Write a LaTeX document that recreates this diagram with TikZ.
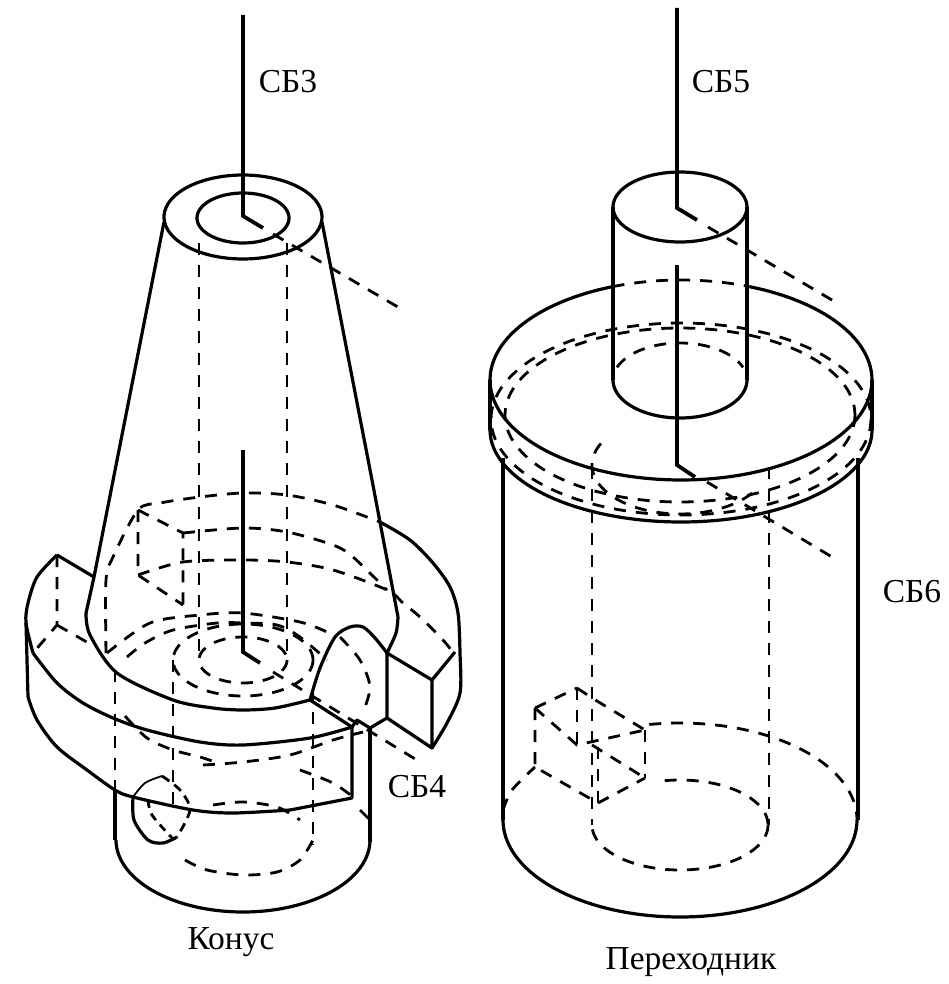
\documentclass[tikz,border=0pt]{standalone}
\usepackage{fontspec}
\setmainfont{Liberation Serif}
\tikzset{
  main/.style={draw=black,line width=3.2pt,line join=round},
  axisline/.style={draw=black,line width=3.8pt,line join=miter},
  hid/.style={draw=black,line width=2.8pt,dash pattern=on 12pt off 10pt},
  lbl/.style={inner sep=0pt,font=\fontsize{33.5}{33.5}\selectfont}
}
% ellipse piece: [style]{cx}{cy}{rx}{ry}{from}{to}, angles run clockwise on the page
\newcommand{\ellarc}[7][main]{\draw[#1] plot[domain=#6:#7,samples=70,smooth] ({#2+#4*cos(\x)},{#3+#5*sin(\x)});}
\begin{document}
\begin{tikzpicture}[x=1pt,y=-1pt]
\useasboundingbox (0,0) rectangle (948,984);
% left part: top of the cone
\ellarc{243}{217}{79}{42}{0}{360}
\ellarc{243}{218}{46}{25}{0}{360}
\draw[axisline] (243,15) -- (243,216) -- (263,228);
\draw[hid] (273,234) -- (403,310);
\draw[main] (164,222) -- (94,577) -- (86,613);
\draw[main] (322,222) -- (372,480) -- (398,617);
\draw[main] plot[smooth] coordinates {(86,613) (90,635) (117,673) (173,700) (213,708) (243,710) (275,708) (310,700)};
\draw[main] plot[smooth] coordinates {(398,617) (396,633) (387,653)};
% left part: flange
\draw[main] (94,577) -- (57,555);
\draw[main] plot[smooth] coordinates {(57,555) (37,577) (28,603) (26,623) (33,653)};
\draw[main] (26,623) -- (28,697);
\draw[main] plot[smooth] coordinates {(33,653) (57,683) (83,703) (113,718) (147,730) (200,742) (243,745) (310,738) (352,727)};
\draw[main] (352,727) -- (352,798) -- (290,810);
\draw[main] plot[smooth] coordinates {(290,810) (233,813) (193,810) (133,797) (115,790) (87,770) (57,747) (37,720) (28,697)};
\draw[main] (310,700) -- (352,727);
\draw[main] (352,727) -- (357,720) -- (370,728) -- (387,718);
\draw[main] (370,728) -- (370,842);
\draw[main] (387,653) -- (387,718) -- (432,748) -- (432,680) -- (387,653);
\draw[main] plot[smooth] coordinates {(380,522) (410,540) (433,563) (450,587) (458,613) (460,653) (460,693) (447,723) (432,748)};
\draw[main] (432,680) -- (455,652);
\draw[main] plot[smooth] coordinates {(310,700) (320,668) (335,637) (350,627) (363,627) (375,638) (387,653)};
% left part: lower cylinder
\draw[main] (115,790) -- (115,840);
\ellarc{243}{840}{127}{72}{0}{180}
\draw[main] plot[smooth] coordinates {(133,797) (134,820) (148,840) (163,843) (177,837)};
\draw[line width=1.8pt] plot[smooth] coordinates {(133,797) (145,783) (162,776)};
\draw[hid,dash pattern=on 9pt off 6pt] plot[smooth] coordinates {(162,776) (180,790) (190,810) (177,837)};
\draw[hid,dash pattern=on 8pt off 6pt] plot[smooth] coordinates {(148,800) (152,815) (172,838)};
% left part: hidden lines
\draw[hid] (199,243) -- (199,660);
\draw[hid] (287,243) -- (287,660);
\ellarc[hid]{243}{660}{44}{23}{0}{360}
\ellarc[hid]{243}{660}{70}{36}{0}{360}
\draw[hid] plot[smooth] coordinates {(107,653) (150,623) (200,615) (243,613) (300,622) (327,632)};
\draw[hid] plot[smooth] coordinates {(127,657) (145,643) (173,630) (217,623) (243,623) (277,625) (300,637) (327,660)};
\draw[hid] plot[smooth] coordinates {(340,637) (360,660) (370,687) (363,712)};
\draw[hid] plot[smooth] coordinates {(106,653) (106,580) (113,557) (138,510) (160,503) (200,497) (243,493) (287,495) (333,505) (380,522)};
\draw[hid] plot[smooth] coordinates {(183,533) (243,528) (287,532) (333,545) (353,557) (387,590)};
\draw[hid] plot[smooth] coordinates {(138,575) (183,562) (243,560) (287,562) (333,570) (387,590) (403,603) (420,617) (443,640) (455,655)};
\draw[hid] (138,510) -- (183,533) -- (183,605);
\draw[hid] (138,510) -- (138,575) -- (183,605);
\draw[hid] (57,555) -- (57,625) -- (33,653);
\draw[hid] (57,625) -- (92,645);
\draw[hid] (115,670) -- (115,790);
\draw[hid] (173,660) -- (173,812);
\draw[hid] (313,690) -- (313,845);
\draw[hid] plot[smooth] coordinates {(125,716) (147,738) (173,750) (200,757) (215,762)};
\draw[hid] plot[smooth] coordinates {(203,765) (243,762) (290,755) (333,740) (363,732)};
\draw[hid] plot[smooth] coordinates {(300,770) (333,783) (353,797)};
\draw[hid] plot[smooth] coordinates {(213,805) (243,802) (277,807) (300,820)};
\draw[hid] plot[smooth] coordinates {(185,860) (207,870) (243,875) (277,872) (300,860) (313,840)};
\draw[hid] (360,810) -- (370,820);
\draw[axisline] (243,450) -- (243,652) -- (260,663);
\draw[hid] (273,672) -- (420,762);
\node[lbl] (sbthree) at (288,82) {СБ3};
\node[lbl] (sbfour) at (417,787) {СБ4};
\node[lbl] (konus) at (231,942) {Конус};
% right part: upper cylinder
\ellarc{680}{207}{67}{35}{0}{360}
\draw[main] (613,207) -- (613,380);
\draw[main] (747,207) -- (747,380);
\ellarc{680}{380}{67}{38}{0}{180}
\ellarc[hid]{680}{380}{67}{37}{200}{340}
\draw[axisline] (677,8) -- (677,208) -- (697,220);
\draw[hid] (708,227) -- (837,303);
% right part: disc
\ellarc{681}{380}{191}{100}{-69}{249}
\ellarc[hid]{681}{380}{191}{100}{249}{291}
\draw[main] (490,380) -- (490,430);
\draw[main] (872,380) -- (872,430);
\ellarc{681}{430}{191}{92}{0}{180}
\ellarc[hid]{681}{419}{190}{96}{0}{360}
\ellarc[hid]{680}{415}{175}{87}{0}{360}
% right part: body
\draw[main] (503,458) -- (503,820);
\draw[main] (858,458) -- (858,820);
\ellarc{680}{820}{177}{97}{0}{180}
\draw[hid] (592,467) -- (592,825);
\draw[hid] (769,467) -- (769,825);
\ellarc[hid]{680}{465}{88}{49}{-325}{-145}
\ellarc[hid]{680}{825}{88}{45}{0}{180}
\ellarc[hid]{680}{825}{88}{45}{260}{360}
\ellarc[hid]{680}{820}{177}{97}{260}{360}
\draw[hid] plot[smooth] coordinates {(503,810) (512,790) (535,767)};
% right part: key
\draw[hid] (535,708) -- (577,688);
\draw[hid] (577,688) -- (592,698) -- (645,730);
\draw[hid] (535,708) -- (577,745) -- (645,730);
\draw[hid] (577,688) -- (577,745);
\draw[hid] (535,708) -- (535,767) -- (598,803);
\draw[hid] (645,730) -- (645,778);
\draw[hid] (592,745) -- (645,778);
\draw[hid] (598,747) -- (598,803);
\draw[hid] (598,803) -- (645,778);
\draw[axisline] (677,265) -- (677,465) -- (695,477);
\draw[hid] (707,482) -- (837,560);
\node[lbl] (sbfive) at (721,82) {СБ5};
\node[lbl] (sbsix) at (912,592) {СБ6};
\node[lbl] (perehodnik) at (691,962) {Переходник};
\end{tikzpicture}
\end{document}
